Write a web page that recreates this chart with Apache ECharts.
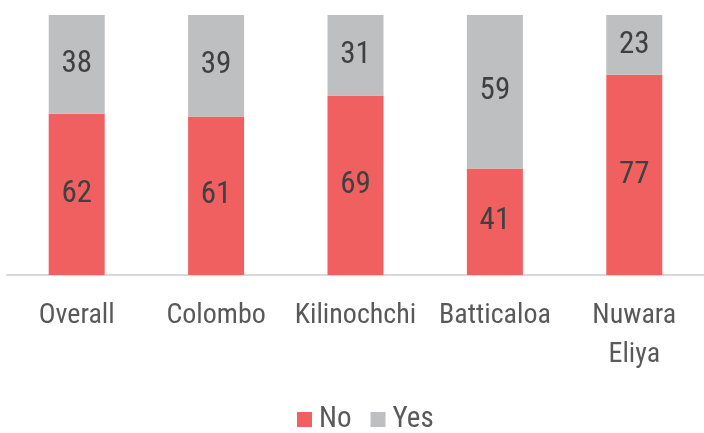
<!DOCTYPE html>
<html>
<head>
<meta charset="utf-8">
<script src="https://cdn.jsdelivr.net/npm/echarts@6/dist/echarts.min.js"></script>
<style>
  html, body { margin: 0; padding: 0; background: #fff; }
  #chart { width: 704px; height: 433px; }
</style>
</head>
<body>
<div id="chart"></div>
<script>
// Share of respondents answering No / Yes, by district (%)
const categories = ['Overall', 'Colombo', 'Kilinochchi', 'Batticaloa', 'Nuwara\nEliya'];
const noValues = [62, 61, 69, 41, 77];
const yesValues = [38, 39, 31, 59, 23];

const FONT = '"Roboto Condensed", "Liberation Sans Narrow", Roboto, sans-serif';

const chart = echarts.init(document.getElementById('chart'), null, { renderer: 'canvas' });

const valueLabel = {
  show: true,
  position: 'inside',
  color: '#404040',
  fontFamily: FONT,
  fontSize: 31
};

chart.setOption({
  animation: false,
  backgroundColor: '#ffffff',
  grid: { left: 7, top: 15, width: 704.5, height: 260, containLabel: false },
  legend: {
    bottom: -6,
    left: 292,
    itemWidth: 15,
    itemHeight: 15,
    itemGap: 19,
    icon: 'rect',
    textStyle: { color: '#595959', fontFamily: FONT, fontSize: 29, padding: [0, 0, 0, 2] },
    data: ['No', 'Yes']
  },
  xAxis: {
    type: 'category',
    data: categories,
    axisLine: { show: true, lineStyle: { color: '#D9D9D9', width: 2 } },
    axisTick: { show: false },
    axisLabel: {
      color: '#595959',
      fontFamily: FONT,
      fontSize: 28,
      lineHeight: 39,
      margin: 21,
      interval: 0
    }
  },
  yAxis: {
    type: 'value',
    min: 0,
    max: 100,
    show: false,
    splitLine: { show: false }
  },
  series: [
    {
      name: 'No',
      type: 'bar',
      stack: 'total',
      data: noValues,
      barWidth: 56,
      itemStyle: { color: '#F06060' },
      label: valueLabel
    },
    {
      name: 'Yes',
      type: 'bar',
      stack: 'total',
      data: yesValues,
      barWidth: 56,
      itemStyle: { color: '#BDBFC1' },
      label: valueLabel
    }
  ]
});
</script>
</body>
</html>
